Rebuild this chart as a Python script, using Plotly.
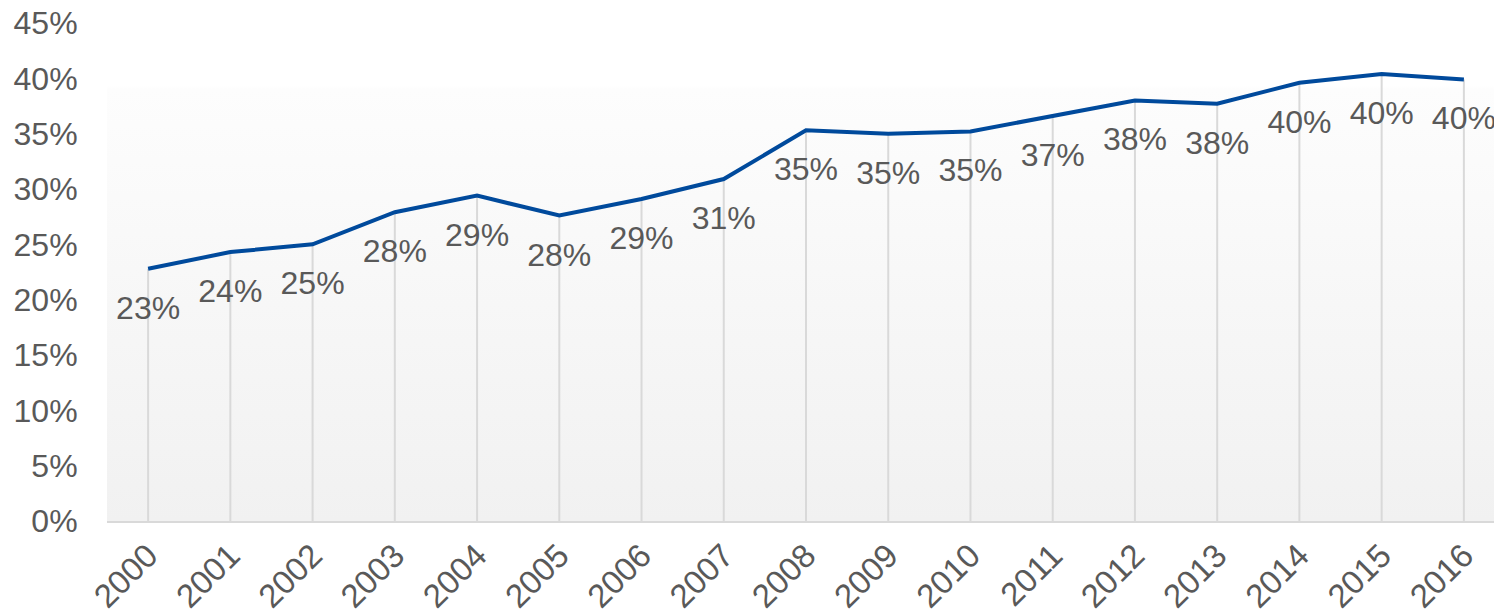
import plotly.graph_objects as go

years = ["2000", "2001", "2002", "2003", "2004", "2005", "2006", "2007", "2008",
         "2009", "2010", "2011", "2012", "2013", "2014", "2015", "2016"]
share = [0.228, 0.243, 0.250, 0.279, 0.294, 0.276, 0.291, 0.309, 0.353,
         0.350, 0.352, 0.366, 0.380, 0.377, 0.396, 0.404, 0.399]
y_ticks = [0, 0.05, 0.10, 0.15, 0.20, 0.25, 0.30, 0.35, 0.40, 0.45]

xs = list(range(len(years)))
font_family = "Liberation Sans, Arial, sans-serif"
txt_color = "#595959"
fsize = 32

fig = go.Figure()

# gradient background
fig.add_trace(go.Scatter(
    x=[-0.5, len(years) - 0.5], y=[0.45, 0.45], mode="none", fill="tozeroy",
    fillgradient=dict(type="vertical",
                      colorscale=[[0, "#f1f1f1"], [0.868, "#fdfdfd"], [0.873, "#ffffff"], [1, "#ffffff"]]),
    hoverinfo="skip", showlegend=False))

# drop lines
fig.add_trace(go.Scatter(
    x=xs, y=share, mode="markers", marker=dict(size=1, opacity=0),
    error_y=dict(type="data", symmetric=False, array=[0] * len(share),
                 arrayminus=share, width=0, color="#d9d9d9", thickness=2),
    hoverinfo="skip", showlegend=False))

# main line with labels
fig.add_trace(go.Scatter(
    x=xs, y=share, mode="lines+markers+text",
    line=dict(color="#004a9c", width=4),
    marker=dict(size=40, color="rgba(0,0,0,0)"),
    text=[f"{round(v * 100):.0f}%" for v in share],
    textposition="bottom center",
    textfont=dict(family=font_family, size=fsize, color=txt_color),
    showlegend=False))

fig.update_layout(
    width=1502, height=613,
    margin=dict(l=99, r=5, t=15, b=100),
    paper_bgcolor="white", plot_bgcolor="white",
    font=dict(family=font_family, size=fsize, color=txt_color),
)
fig.update_xaxes(
    range=[-0.5, len(years) - 0.5], tickmode="array", tickvals=xs, ticktext=years,
    tickangle=-45, showgrid=False, zeroline=False, automargin=False,
    ticklabeloverflow="allow",
    showline=True, linecolor="#d9d9d9", linewidth=2,
    ticks="", tickfont=dict(family=font_family, size=33, color=txt_color))
fig.update_yaxes(
    range=[0, 0.45], tickmode="array", tickvals=y_ticks,
    ticktext=[f"{round(v * 100)}%" for v in y_ticks],
    showgrid=False, zeroline=False, showline=False, automargin=False,
    ticklabeloverflow="allow",
    ticks="outside", ticklen=22, tickcolor="rgba(0,0,0,0)",
    tickfont=dict(family=font_family, size=fsize, color=txt_color))

fig.write_html("out.html")
